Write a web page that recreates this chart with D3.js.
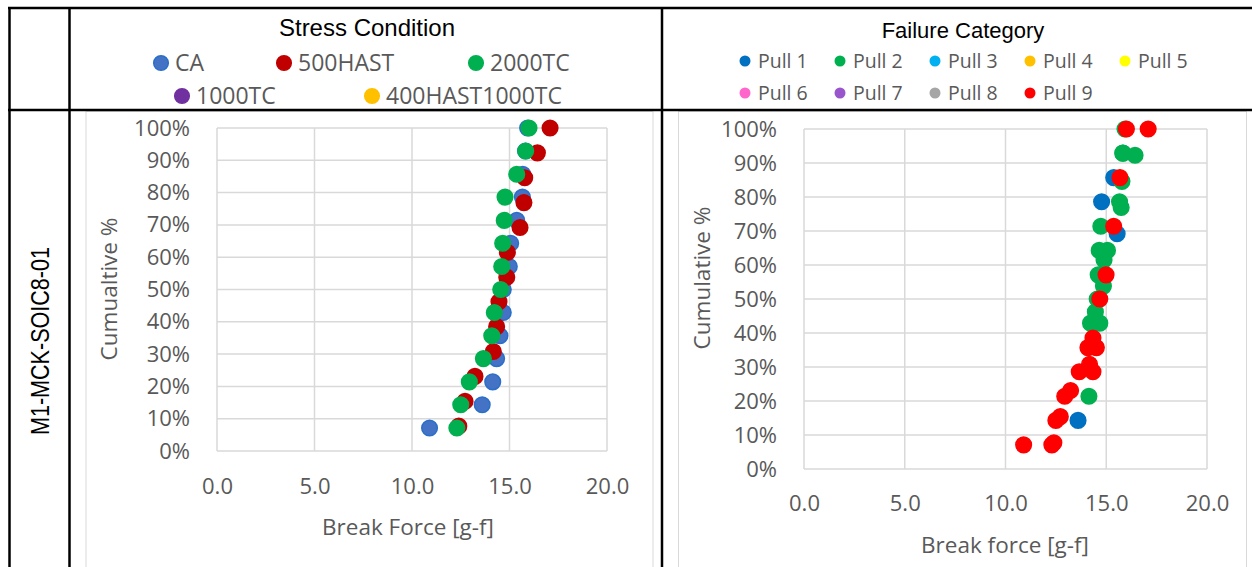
<!DOCTYPE html>
<html>
<head>
<meta charset="utf-8">
<title>M1-MCK-SOIC8-01 break force</title>
<script src="https://cdn.jsdelivr.net/npm/d3@7"></script>
<style>
  body { margin: 0; background: #fff; }
  svg text { font-family: "Open Sans", sans-serif; }
</style>
</head>
<body>
<div id="chart"></div>
<script>
// break force [g-f] per stress condition, sorted, with cumulative % and failure category (pull no.)
var caForce      = [10.9, 13.6, 14.14, 14.34, 14.51, 14.68, 14.68, 14.99, 15.06, 15.37, 15.66, 15.68, 15.82, 15.93];
var caPct        = [7.1, 14.3, 21.4, 28.6, 35.7, 42.9, 50.0, 57.1, 64.3, 71.4, 78.6, 85.7, 92.9, 100];
var caPull       = [9, 1, 2, 9, 9, 2, 9, 9, 2, 9, 2, 9, 2, 2];

var hast500Force = [12.4, 12.72, 13.23, 14.17, 14.34, 14.46, 14.86, 14.89, 15.54, 15.74, 15.78, 16.43, 17.08];
var hast500Pct   = [7.7, 15.4, 23.1, 30.8, 38.5, 46.2, 53.8, 61.5, 69.2, 76.9, 84.6, 92.3, 100];
var hast500Pull  = [9, 9, 9, 9, 9, 2, 2, 2, 1, 2, 2, 2, 9];

var tc2000Force  = [12.3, 12.5, 12.94, 13.66, 14.09, 14.22, 14.55, 14.6, 14.65, 14.73, 14.77, 15.37, 15.83, 16.0];
var tc2000Pct    = [7.1, 14.3, 21.4, 28.6, 35.7, 42.9, 50.0, 57.1, 64.3, 71.4, 78.6, 85.7, 92.9, 100];
var tc2000Pull   = [9, 9, 9, 9, 9, 2, 2, 2, 2, 2, 1, 1, 2, 9];

var stressNames  = ["CA", "500HAST", "2000TC", "1000TC", "400HAST1000TC"];
var stressColors = ["#4472c4", "#c00000", "#00b050", "#7030a0", "#ffc000"];

var pullNames  = ["Pull 1", "Pull 2", "Pull 3", "Pull 4", "Pull 5", "Pull 6", "Pull 7", "Pull 8", "Pull 9"];
var pullColors = ["#0070c0", "#00b050", "#00b0f0", "#ffc000", "#ffff00", "#ff66cc", "#9955cc", "#a5a5a5", "#ff0000"];

var xTicks = [0, 5, 10, 15, 20];
var yTicks = [0, 10, 20, 30, 40, 50, 60, 70, 80, 90, 100];

var series = [
  {name: "CA", force: caForce, pct: caPct, pull: caPull},
  {name: "500HAST", force: hast500Force, pct: hast500Pct, pull: hast500Pull},
  {name: "2000TC", force: tc2000Force, pct: tc2000Pct, pull: tc2000Pull}
];

var points = [];
series.forEach(function(s) {
  s.force.forEach(function(f, i) {
    points.push({stress: s.name, force: f, pct: s.pct[i], pull: s.pull[i]});
  });
});

var W = 1252, H = 567;
var grey = "#595959", gridCol = "#d9d9d9";
var svg = d3.select("#chart").append("svg").attr("width", W).attr("height", H);

var stressColor = d3.scaleOrdinal().domain(stressNames).range(stressColors);
var pullColor = d3.scaleOrdinal().domain(d3.range(1, 10)).range(pullColors);

// chart area frames (light grey)
svg.append("rect").attr("x", 86).attr("y", 111.5).attr("width", 567).attr("height", 480)
  .attr("fill", "none").attr("stroke", gridCol);
svg.append("rect").attr("x", 678.5).attr("y", 111.5).attr("width", 568).attr("height", 480)
  .attr("fill", "none").attr("stroke", gridCol);

function panel(cfg) {
  var x = d3.scaleLinear().domain([0, 20]).range([cfg.left, cfg.right]);
  var y = d3.scaleLinear().domain([0, 100]).range([cfg.bottom, cfg.top]);
  var g = svg.append("g");

  g.selectAll(".hgrid").data(yTicks).enter().append("line")
    .attr("x1", cfg.left).attr("x2", cfg.right)
    .attr("y1", function(d) { return y(d); }).attr("y2", function(d) { return y(d); })
    .attr("stroke", gridCol).attr("stroke-width", 1.5);
  g.selectAll(".vgrid").data(xTicks).enter().append("line")
    .attr("y1", cfg.top).attr("y2", cfg.bottom)
    .attr("x1", function(d) { return x(d); }).attr("x2", function(d) { return x(d); })
    .attr("stroke", gridCol).attr("stroke-width", 1.5);

  var ya = g.append("g").attr("transform", "translate(" + cfg.left + ",0)")
    .call(d3.axisLeft(y).tickValues(yTicks).tickFormat(function(d) { return d + "%"; }).tickSize(0).tickPadding(27));
  var xa = g.append("g").attr("transform", "translate(0," + cfg.bottom + ")")
    .call(d3.axisBottom(x).tickValues(xTicks).tickFormat(d3.format(".1f")).tickSize(0).tickPadding(cfg.xPad));
  [ya, xa].forEach(function(a) {
    a.select(".domain").remove();
    a.selectAll("text").attr("fill", grey).style("font-size", "22px").style("font-family", "'Open Sans', sans-serif");
  });

  g.append("text").attr("transform", "translate(" + cfg.yTitleX + "," + cfg.yTitleY + ") rotate(-90)")
    .attr("text-anchor", "middle").attr("dy", "0.36em").attr("fill", grey).style("font-size", "22.5px")
    .text(cfg.yTitle);
  g.append("text").attr("x", cfg.xTitleX).attr("y", cfg.xTitleY)
    .attr("text-anchor", "middle").attr("dy", "0.36em").attr("fill", grey).style("font-size", "22.5px")
    .text(cfg.xTitle);

  g.selectAll("circle").data(cfg.data).enter().append("circle")
    .attr("cx", function(d) { return x(d.force); })
    .attr("cy", function(d) { return y(d.pct); })
    .attr("r", 7.8)
    .attr("fill", cfg.fill)
    .attr("stroke", cfg.stroke)
    .attr("stroke-width", 1.5);
}

// left: by stress condition (series order)
panel({
  left: 217, right: 607, top: 128, bottom: 451, xPad: 27,
  yTitle: "Cumualtive %", yTitleX: 109, yTitleY: 289,
  xTitle: "Break Force [g-f]", xTitleX: 408, xTitleY: 527,
  data: points,
  fill: function(d) { return stressColor(d.stress); },
  stroke: function(d) { return d.stress == "CA" ? "#2a6fc9" : stressColor(d.stress); }
});

// right: same points coloured by failure category, pull 9 drawn last
var byPull = points.slice().sort(function(a, b) { return a.pull - b.pull; });
panel({
  left: 804, right: 1207, top: 129, bottom: 469, xPad: 26,
  yTitle: "Cumulative %", yTitleX: 702, yTitleY: 278,
  xTitle: "Break force [g-f]", xTitleX: 1005, xTitleY: 545,
  data: byPull,
  fill: function(d) { return pullColor(d.pull); },
  stroke: function(d) { return pullColor(d.pull); }
});

// headers
svg.append("text").attr("x", 367).attr("y", 35.5).attr("text-anchor", "middle")
  .style("font-family", "'Liberation Sans', Arial, sans-serif").style("font-size", "24px").attr("fill", "#000")
  .text("Stress Condition");
svg.append("text").attr("x", 963).attr("y", 38).attr("text-anchor", "middle")
  .style("font-family", "'Liberation Sans', Arial, sans-serif").style("font-size", "22px").attr("fill", "#000")
  .text("Failure Category");

// stress legend
var stressLeg = [[161, 63], [284, 63], [476, 63], [182, 96], [372, 96]];
var sl = svg.selectAll(".sleg").data(stressNames).enter().append("g")
  .attr("transform", function(d, i) { return "translate(" + stressLeg[i][0] + "," + stressLeg[i][1] + ")"; });
sl.append("circle").attr("r", 7.3).attr("fill", function(d) { return stressColor(d); })
  .attr("stroke", function(d) { return d == "CA" ? "#2a6fc9" : stressColor(d); }).attr("stroke-width", 1.5);
sl.append("text").attr("x", 14).attr("dy", "0.36em").attr("fill", grey).style("font-size", "23px")
  .text(function(d) { return d; });

// pull legend
var pl = svg.selectAll(".pleg").data(pullNames).enter().append("g")
  .attr("transform", function(d, i) { return "translate(" + (745 + (i % 5) * 95) + "," + (i < 5 ? 61 : 93) + ")"; });
pl.append("circle").attr("r", 5.5).attr("fill", function(d, i) { return pullColors[i]; });
pl.append("text").attr("x", 13).attr("dy", "0.36em").attr("fill", grey).style("font-size", "19.5px")
  .text(function(d) { return d; });

// row label
svg.append("text").attr("transform", "translate(40,341) rotate(-90)")
  .attr("text-anchor", "middle").attr("dy", "0.36em")
  .style("font-family", "'Liberation Sans Narrow', 'Arial Narrow', 'Liberation Sans', sans-serif")
  .style("font-size", "26px").attr("fill", "#000")
  .attr("textLength", 188).attr("lengthAdjust", "spacingAndGlyphs")
  .text("M1-MCK-SOIC8-01");

// table rules
var rules = [[8, 8, W, 8], [8, 110, W, 110], [9.5, 7, 9.5, H], [69.5, 8, 69.5, H], [662, 8, 662, H]];
svg.selectAll(".rule").data(rules).enter().append("line")
  .attr("x1", function(d) { return d[0]; }).attr("y1", function(d) { return d[1]; })
  .attr("x2", function(d) { return d[2]; }).attr("y2", function(d) { return d[3]; })
  .attr("stroke", "#000").attr("stroke-width", 2.5);
</script>
</body>
</html>
